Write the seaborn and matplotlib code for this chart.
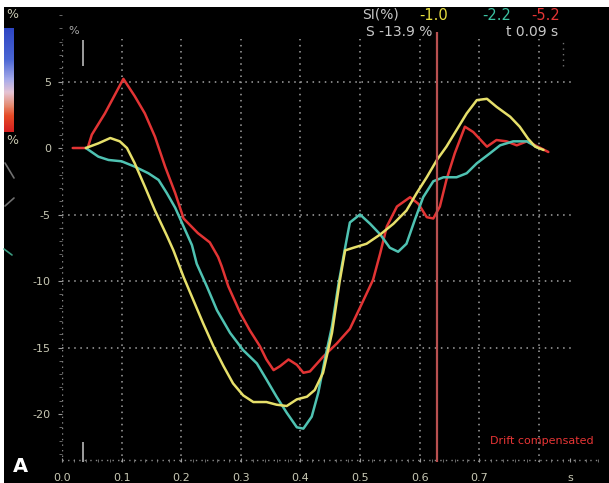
import matplotlib
matplotlib.use("Agg")
import matplotlib.pyplot as plt
import seaborn as sns
import pandas as pd
import numpy as np
from matplotlib.lines import Line2D
from matplotlib.colors import LinearSegmentedColormap
from matplotlib.ticker import MultipleLocator

# ---------------- data (time in s, strain in %) ----------------
red_t = [0.018, 0.043, 0.050, 0.072, 0.103, 0.122, 0.139, 0.156, 0.173, 0.190, 0.204, 0.228,
         0.248, 0.262, 0.268, 0.279, 0.299, 0.315, 0.332, 0.343, 0.355, 0.366, 0.380, 0.394,
         0.405, 0.416, 0.438, 0.461, 0.483, 0.500, 0.522, 0.534, 0.545, 0.562, 0.584, 0.598,
         0.612, 0.623, 0.634, 0.645, 0.659, 0.676, 0.690, 0.713, 0.729, 0.746, 0.763, 0.780,
         0.794, 0.816]
red_v = [0.0, 0.0, 1.0, 2.6, 5.2, 3.9, 2.6, 0.85, -1.4, -3.4, -5.3, -6.4,
         -7.1, -8.2, -8.9, -10.4, -12.4, -13.7, -14.9, -15.9, -16.7, -16.4, -15.9, -16.3,
         -16.9, -16.8, -15.7, -14.7, -13.6, -12.0, -9.9, -7.9, -5.9, -4.4, -3.7, -4.2,
         -5.2, -5.3, -4.4, -2.4, -0.4, 1.6, 1.2, 0.1, 0.6, 0.5, 0.2, 0.5,
         0.2, -0.3]

yellow_t = [0.040, 0.061, 0.081, 0.097, 0.109, 0.122, 0.139, 0.156, 0.176, 0.187, 0.204, 0.220,
            0.237, 0.254, 0.271, 0.287, 0.304, 0.321, 0.343, 0.360, 0.377, 0.394, 0.411, 0.424,
            0.438, 0.453, 0.466, 0.475, 0.489, 0.511, 0.534, 0.556, 0.578, 0.595, 0.612, 0.629,
            0.645, 0.662, 0.679, 0.696, 0.713, 0.729, 0.752, 0.768, 0.782, 0.794, 0.808]
yellow_v = [0.0, 0.35, 0.75, 0.5, 0.0, -1.15, -2.9, -4.7, -6.6, -7.7, -9.7, -11.4,
            -13.2, -14.9, -16.4, -17.7, -18.6, -19.1, -19.1, -19.3, -19.4, -18.9, -18.7, -18.2,
            -16.9, -13.9, -10.0, -7.7, -7.5, -7.2, -6.5, -5.7, -4.7, -3.4, -2.2, -0.9,
            0.1, 1.35, 2.6, 3.6, 3.7, 3.1, 2.35, 1.6, 0.7, 0.1, -0.15]

cyan_t = [0.040, 0.061, 0.078, 0.100, 0.122, 0.145, 0.162, 0.176, 0.190, 0.204, 0.218, 0.226,
          0.243, 0.260, 0.282, 0.304, 0.327, 0.343, 0.360, 0.377, 0.394, 0.405, 0.419, 0.430,
          0.441, 0.453, 0.464, 0.475, 0.483, 0.500, 0.517, 0.534, 0.550, 0.564, 0.578, 0.592,
          0.606, 0.623, 0.640, 0.662, 0.679, 0.696, 0.718, 0.735, 0.757, 0.780, 0.799]
cyan_v = [0.0, -0.65, -0.9, -1.0, -1.4, -1.9, -2.4, -3.4, -4.5, -5.9, -7.3, -8.7,
          -10.4, -12.2, -13.9, -15.2, -16.2, -17.4, -18.7, -19.9, -21.0, -21.1, -20.2, -18.4,
          -15.9, -13.4, -10.2, -7.5, -5.6, -5.0, -5.7, -6.5, -7.5, -7.8, -7.2, -5.4,
          -3.7, -2.5, -2.2, -2.2, -1.9, -1.15, -0.4, 0.2, 0.5, 0.5, 0.0]

x_ticks = [0.0, 0.1, 0.2, 0.3, 0.4, 0.5, 0.6, 0.7, 0.853]
x_tick_labels = ["0.0", "0.1", "0.2", "0.3", "0.4", "0.5", "0.6", "0.7", "s"]
y_ticks = [5, 0, -5, -10, -15, -20]
y_tick_labels = ["5", "0", "-5", "-10", "-15", "-20"]
grid_x = [0.1, 0.2, 0.3, 0.4, 0.5, 0.6, 0.7, 0.8]
grid_y = [5, -5, -10, -15]
avc_time = 0.629
segment_si = ["-1.0", "-2.2", "-5.2"]

RED = "#e23434"
YELLOW = "#e6df6a"
CYAN = "#4fc2b2"

sns.set_theme(style="white")
plt.rcParams["font.family"] = ["DejaVu Sans"]

W, H = 609, 483
fig = plt.figure(figsize=(W / 100, H / 100), dpi=100, facecolor="white")


def fx(x):
    return x / W


def fy(y):
    return 1 - y / H


# black background panel
bg = fig.add_axes([fx(4), 0, 1 - fx(4), fy(7)], zorder=-5)
bg.set_facecolor("black")
bg.set_xticks([])
bg.set_yticks([])
for s in bg.spines.values():
    s.set_visible(False)

ax = fig.add_axes([fx(62), fy(462), (W - 62) / W, (462 - 7) / H], zorder=1)
ax.set_facecolor("none")
ymin, ymax = -(462 - 148) / 13.3, (148 - 7) / 13.3
ax.set_xlim(0, (W - 62) / 596)
ax.set_ylim(ymin, ymax)
for s in ax.spines.values():
    s.set_visible(False)

dot = (0, (1, 3.0))
grid_col = "#a4a4a4"
ax.vlines(grid_x, ymin, 8.2, colors=grid_col, linestyles=dot, linewidth=1.1, zorder=1)
ax.hlines(grid_y, 0, 0.86, colors=grid_col, linestyles=dot, linewidth=1.1, zorder=1)
# axis lines
ax.vlines([0], ymin, 8.2, colors="#8a8a8a", linestyles=dot, linewidth=1.0, zorder=1)
ax.hlines([ymin + 0.12], 0, 0.90, colors="#8a8a8a", linestyles=dot, linewidth=1.0, zorder=1)

# strain curves
df = pd.concat([
    pd.DataFrame({"t": yellow_t, "v": yellow_v, "seg": "yellow"}),
    pd.DataFrame({"t": cyan_t, "v": cyan_v, "seg": "cyan"}),
    pd.DataFrame({"t": red_t, "v": red_v, "seg": "red"}),
])
sns.lineplot(data=df, x="t", y="v", hue="seg", palette={"yellow": YELLOW, "cyan": CYAN, "red": RED},
             hue_order=["red", "cyan", "yellow"], sort=False, estimator=None, linewidth=1.8,
             legend=False, ax=ax, zorder=3)

# AVC vertical line
ax.vlines([avc_time], ymin, 8.7, colors="#b85050", linewidth=1.6, zorder=4)

# event markers
ax.vlines([0.035], 6.2, 8.1, colors="#b8b8b8", linewidth=1.2, zorder=2)
ax.vlines([0.035], ymin, -22.1, colors="#b8b8b8", linewidth=1.2, zorder=2)
ax.vlines([0.84], 6.2, 8.1, colors="#707070", linewidth=1.0, linestyles=dot, zorder=2)

# ticks
ax.set_xticks(x_ticks)
ax.set_xticklabels(x_tick_labels)
ax.set_yticks(y_ticks)
ax.set_yticklabels(y_tick_labels)
ax.set_xlabel("")
ax.set_ylabel("")
ax.yaxis.set_minor_locator(MultipleLocator(1))
ax.xaxis.set_minor_locator(MultipleLocator(0.02))
ax.tick_params(axis="both", which="major", length=3, width=0.8, color="#9a9a9a",
               labelcolor="#c8c8b4", labelsize=8, left=True, bottom=True)
ax.tick_params(axis="y", which="major", pad=5)
ax.tick_params(axis="x", which="major", pad=8, direction="in")
ax.tick_params(axis="both", which="minor", length=2, width=0.7, color="#6a6a6a", left=True, bottom=True)
ax.tick_params(axis="x", which="minor", direction="in")

# header texts
fig.text(fx(362), fy(15), "SI(%)", color="#c8c8c8", fontsize=10, ha="left", va="center")
fig.text(fx(419), fy(15), segment_si[0], color="#e8e040", fontsize=10.5, ha="left", va="center")
fig.text(fx(482), fy(15), segment_si[1], color="#3cc0a0", fontsize=10.5, ha="left", va="center")
fig.text(fx(531), fy(15), segment_si[2], color=RED, fontsize=10.5, ha="left", va="center")
fig.text(fx(366), fy(32), "S -13.9 %", color="#c8c8c8", fontsize=10, ha="left", va="center")
fig.text(fx(506), fy(32), "t 0.09 s", color="#c8c8c8", fontsize=10, ha="left", va="center")
fig.text(fx(68), fy(31), "%", color="#a8a8a8", fontsize=8, ha="left", va="center")
fig.text(fx(490), fy(441), "Drift compensated", color="#e83535", fontsize=8, ha="left", va="center")
fig.text(fx(13), fy(467), "A", color="white", fontsize=14, fontweight="bold", ha="left", va="center")

# colour scale on the left
cmap = LinearSegmentedColormap.from_list("strain", [(0.0, "#2e46c4"), (0.3, "#4a66d4"),
                                                    (0.5, "#a8acea"), (0.62, "#e6c4d4"),
                                                    (0.75, "#e48a70"), (0.85, "#e64a26"),
                                                    (1.0, "#d42020")])
cax = fig.add_axes([fx(4), fy(132), fx(10), (132 - 28) / H], zorder=2)
cax.imshow(np.linspace(0, 1, 100).reshape(-1, 1), aspect="auto", cmap=cmap)
cax.axis("off")
fig.text(fx(12), fy(14), "%", color="#c8c8b0", fontsize=9, ha="center", va="center")
fig.text(fx(12), fy(141), "%", color="#c8c8b0", fontsize=9, ha="center", va="center")
for (x0, y0, x1, y1, c) in [(5, 163, 14, 178, "#707070"), (5, 206, 14, 198, "#707070"),
                            (4, 249, 12, 255, "#3a9a80")]:
    fig.add_artist(Line2D([fx(x0), fx(x1)], [fy(y0), fy(y1)], transform=fig.transFigure,
                          color=c, linewidth=1.2))

fig.savefig("out.png", dpi=100, facecolor="white")
